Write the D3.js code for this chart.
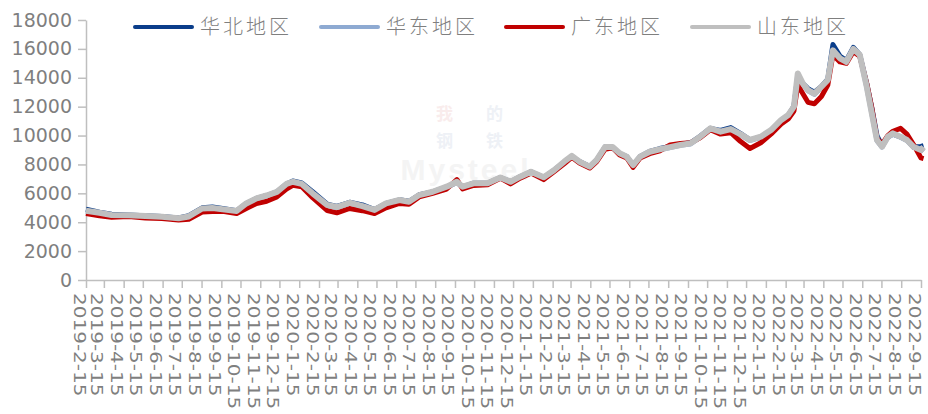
<!DOCTYPE html>
<html>
<head>
<meta charset="utf-8">
<script src="https://cdn.jsdelivr.net/npm/d3@7"></script>
<style>
  body { margin: 0; background: white; }
  svg { display: block; }
</style>
</head>
<body>
<div id="chart"></div>
<script>
// data (yuan/ton)
const dates = [
  "2019-02-15","2019-03-08","2019-03-27","2019-04-23","2019-05-19","2019-06-14","2019-07-10","2019-07-26","2019-08-16","2019-09-01",
  "2019-09-17","2019-10-09","2019-10-24","2019-11-09","2019-11-25","2019-12-11","2019-12-26","2020-01-05","2020-01-19","2020-02-05",
  "2020-02-28","2020-03-14","2020-04-03","2020-04-23","2020-05-12","2020-05-30","2020-06-20","2020-07-05","2020-07-21","2020-08-11",
  "2020-09-02","2020-09-18","2020-09-27","2020-10-14","2020-11-05","2020-11-25","2020-12-11","2020-12-26","2021-01-12","2021-02-01",
  "2021-02-17","2021-03-05","2021-03-17","2021-03-29","2021-04-14","2021-04-25","2021-05-08","2021-05-20","2021-05-31","2021-06-11",
  "2021-06-21","2021-07-02","2021-07-17","2021-08-02","2021-08-18","2021-09-03","2021-09-19","2021-10-04","2021-10-20","2021-11-05",
  "2021-11-21","2021-12-06","2021-12-21","2022-01-07","2022-01-23","2022-02-08","2022-02-19","2022-02-28","2022-03-06","2022-03-14",
  "2022-03-22","2022-04-01","2022-04-12","2022-04-22","2022-04-30","2022-05-11","2022-05-21","2022-06-01","2022-06-11","2022-06-22",
  "2022-06-30","2022-07-08","2022-07-16","2022-07-25","2022-08-02","2022-08-14","2022-08-24","2022-09-03","2022-09-15","2022-09-19"
];

const huabei = [
  4900,4700,4550,4500,4450,4400,4300,4450,5000,5050,
  4950,4800,5300,5650,5850,6100,6650,6850,6720,6120,
  5250,5100,5380,5200,4880,5300,5550,5450,5900,6100,
  6450,6750,6450,6700,6700,7100,6800,7150,7500,7100,
  7600,8150,8550,8200,7850,8300,9200,9150,8750,8550,
  7950,8550,8900,9100,9250,9400,9500,9950,10500,10350,
  10550,10150,9700,9900,10350,11050,11400,12050,14100,13600,
  13250,13000,13400,13900,16300,15500,15200,16100,15600,13600,
  11900,10000,9300,9900,10100,9900,9700,9200,9250,9300
];

const huadong = [
  4780,4620,4480,4460,4400,4350,4260,4380,4920,4950,
  4870,4750,5260,5620,5820,6060,6620,6780,6600,5950,
  5150,5000,5300,5080,4820,5280,5500,5400,5850,6080,
  6420,6760,6420,6650,6660,7060,6760,7100,7460,7080,
  7560,8150,8560,8150,7820,8270,9150,9160,8730,8500,
  7920,8500,8840,9020,9170,9320,9420,9880,10460,10230,
  10400,10050,9650,9880,10340,11040,11380,11950,14200,13550,
  13100,12850,13340,13800,15850,15300,15080,15960,15550,13350,
  11500,9650,9200,9880,10100,9880,9650,9200,8950,9150
];

const guangdong = [
  4600,4450,4350,4400,4300,4250,4150,4200,4700,4750,
  4750,4600,4950,5300,5450,5750,6300,6550,6450,5700,
  4800,4650,4950,4800,4600,5000,5300,5250,5750,6000,
  6300,6950,6300,6550,6600,7050,6650,7050,7400,6950,
  7500,8050,8500,8100,7750,8200,9050,9150,8650,8450,
  7800,8450,8750,8950,9350,9450,9500,9850,10400,10100,
  10200,9600,9100,9500,10100,10800,11150,11700,13500,12900,
  12300,12200,12700,13500,15600,15100,15000,15800,15500,13600,
  11900,9800,9400,10000,10300,10500,10100,9400,8450,8400
];

const shandong = [
  4800,4650,4500,4480,4430,4380,4280,4400,4950,4980,
  4900,4780,5300,5650,5850,6100,6650,6800,6650,6000,
  5190,5050,5350,5120,4850,5310,5540,5420,5880,6110,
  6460,6800,6460,6690,6700,7100,6800,7150,7500,7110,
  7600,8190,8600,8190,7850,8310,9200,9200,8770,8540,
  7960,8540,8880,9050,9200,9350,9460,9920,10500,10270,
  10450,10100,9700,9920,10380,11080,11420,12000,14300,13600,
  13150,12900,13380,13850,15900,15350,15110,16000,15600,13380,
  11540,9690,9230,9920,10150,9920,9690,9230,9000,9200
];

const seriesNames = ["华北地区", "华东地区", "广东地区", "山东地区"];
const seriesColors = ["#0a3d8a", "#8eaad2", "#c00000", "#bfbfbf"];
const seriesWidths = [5, 5, 5, 6];
const seriesValues = [huabei, huadong, guangdong, shandong];

const yTicks = [0, 2000, 4000, 6000, 8000, 10000, 12000, 14000, 16000, 18000];
const xTickLabels = [
  "2019-2-15","2019-3-15","2019-4-15","2019-5-15","2019-6-15","2019-7-15","2019-8-15","2019-9-15","2019-10-15","2019-11-15","2019-12-15",
  "2020-1-15","2020-2-15","2020-3-15","2020-4-15","2020-5-15","2020-6-15","2020-7-15","2020-8-15","2020-9-15","2020-10-15","2020-11-15","2020-12-15",
  "2021-1-15","2021-2-15","2021-3-15","2021-4-15","2021-5-15","2021-6-15","2021-7-15","2021-8-15","2021-9-15","2021-10-15","2021-11-15","2021-12-15",
  "2022-1-15","2022-2-15","2022-3-15","2022-4-15","2022-5-15","2022-6-15","2022-7-15","2022-8-15","2022-9-15"
];

const W = 928, H = 414;
const plotLeft = 86, plotRight = 921, plotTop = 20, plotBottom = 280;
const axisColor = "#bfbfbf";
const textColor = "#7f7f7f";

const parse = d3.timeParse("%Y-%m-%d");
const tickDates = xTickLabels.map(parse);
const pointDates = dates.map(parse);

const x = d3.scaleTime()
    .domain([tickDates[0], tickDates[tickDates.length-1]])
    .range([plotLeft, plotRight]);
const y = d3.scaleLinear()
    .domain([0, 18000])
    .range([plotBottom, plotTop]);

const svg = d3.select("#chart").append("svg")
    .attr("width", W)
    .attr("height", H)
    .style("background", "white");

// faint watermark
const wm = svg.append("g").attr("id", "watermark");
wm.append("text")
    .attr("x", 466).attr("y", 180)
    .attr("text-anchor", "middle")
    .style("font-family", "Liberation Sans, Arial, sans-serif")
    .style("font-weight", "bold")
    .style("font-size", "30px")
    .style("letter-spacing", "3px")
    .style("fill", "#f4f4f4")
    .text("Mysteel");
const wmChars = [["我", 436, 120, "#f9ecec"], ["的", 486, 120, "#eef1f6"], ["钢", 436, 147, "#eef1f6"], ["铁", 486, 147, "#eef1f6"]];
for(const c of wmChars) {
    wm.append("text")
        .attr("x", c[1]).attr("y", c[2])
        .style("font-family", "Noto Sans CJK SC")
        .style("font-weight", "bold")
        .style("font-size", "17px")
        .style("fill", c[3])
        .text(c[0]);
}

// y axis
const yAxis = svg.append("g")
    .attr("transform", "translate(" + plotLeft + ",0)")
    .call(d3.axisLeft(y).tickValues(yTicks).tickSize(8).tickPadding(6).tickSizeOuter(0)
        .tickFormat(d3.format("d")));
yAxis.select(".domain").style("stroke", axisColor).style("stroke-width", 1.5);
yAxis.selectAll(".tick line").style("stroke", axisColor).style("stroke-width", 1.5);
yAxis.selectAll(".tick text")
    .style("fill", textColor)
    .style("font-family", "DejaVu Sans, sans-serif")
    .style("font-size", "19px");

// x axis
const xAxis = svg.append("g")
    .attr("transform", "translate(0," + plotBottom + ")")
    .call(d3.axisBottom(x).tickValues(tickDates).tickSize(8).tickSizeOuter(0)
        .tickFormat((d, i) => xTickLabels[i]));
xAxis.select(".domain").style("stroke", axisColor).style("stroke-width", 1.5);
xAxis.selectAll(".tick line").style("stroke", axisColor).style("stroke-width", 1.5);
xAxis.selectAll(".tick text")
    .attr("x", 0).attr("y", 0).attr("dy", null)
    .attr("text-anchor", "start")
    .attr("transform", "translate(-13,13) rotate(90) scale(1.25,1)")
    .style("fill", textColor)
    .style("font-family", "DejaVu Sans, sans-serif")
    .style("font-size", "16px");

// lines
const lines = svg.append("g").attr("id", "lines");
for(let s = 0; s < seriesValues.length; s++) {
    const vals = seriesValues[s];
    const line = d3.line()
        .x((d, i) => x(pointDates[i]))
        .y(d => y(d));
    lines.append("path")
        .datum(vals)
        .attr("d", line)
        .style("fill", "none")
        .style("stroke", seriesColors[s])
        .style("stroke-width", seriesWidths[s])
        .style("stroke-linejoin", "round");
}

// legend
const legendX = [135, 321, 506, 692];
const legend = svg.append("g").attr("id", "legend");
for(let s = 0; s < seriesNames.length; s++) {
    legend.append("line")
        .attr("x1", legendX[s]).attr("x2", legendX[s] + 57)
        .attr("y1", 27).attr("y2", 27)
        .style("stroke", seriesColors[s])
        .style("stroke-width", 4)
        .style("stroke-linecap", "round");
    legend.append("text")
        .attr("x", legendX[s] + 65)
        .attr("y", 34)
        .style("fill", textColor)
        .style("font-family", "Noto Sans CJK SC")
        .style("font-weight", 300)
        .style("font-size", "20px")
        .style("letter-spacing", "3px")
        .text(seriesNames[s]);
}
</script>
</body>
</html>
